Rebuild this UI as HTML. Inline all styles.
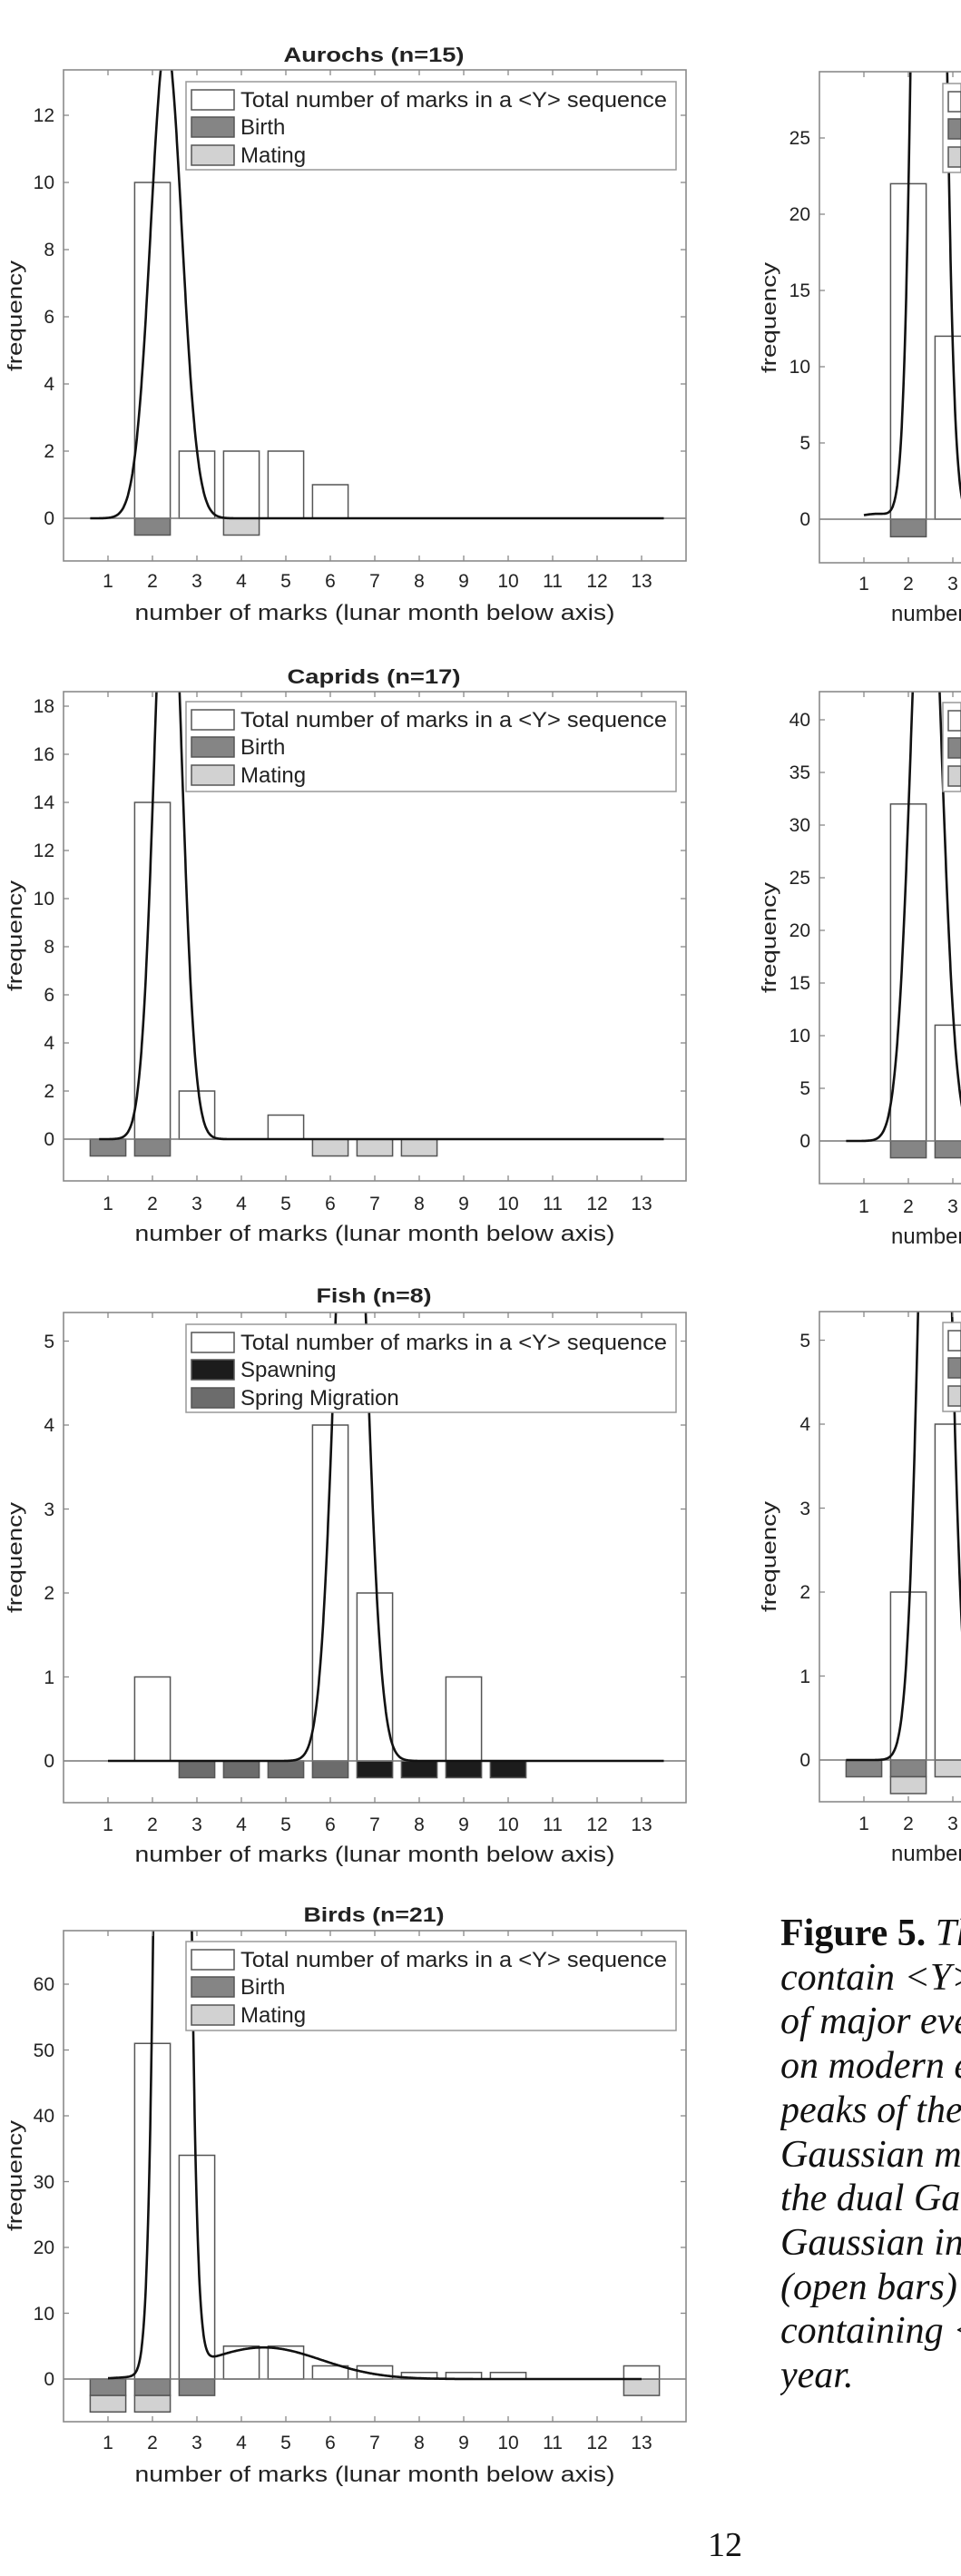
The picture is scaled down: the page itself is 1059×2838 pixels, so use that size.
<!DOCTYPE html>
<html><head><meta charset="utf-8">
<style>
html,body{margin:0;padding:0;background:#fff;width:1059px;height:2838px;overflow:hidden;position:relative}
svg{position:absolute;left:0;top:0}
.cap{position:absolute;left:860px;top:2106px;width:199px;overflow:hidden;font-family:"Liberation Serif",serif;font-size:42px;line-height:48.7px;font-style:italic;white-space:nowrap;color:#111}
.pg{position:absolute;left:780px;top:2782px;font-family:"Liberation Serif",serif;font-size:38px;color:#111}
text{font-family:"Liberation Sans",sans-serif;fill:#222}
</style></head><body>
<svg id="s" width="1059" height="2838" xmlns="http://www.w3.org/2000/svg">
<defs></defs>
<g id="plot"></g>
<g id="txt">
<!-- Aurochs -->
<text x="412" y="68" font-size="22" font-weight="bold" text-anchor="middle" textLength="199" lengthAdjust="spacingAndGlyphs">Aurochs (n=15)</text>
<text transform="translate(24,348) rotate(-90)" font-size="22" text-anchor="middle" textLength="122" lengthAdjust="spacingAndGlyphs">frequency</text>
<g font-size="21" text-anchor="end"><text x="60" y="578">0</text><text x="60" y="504">2</text><text x="60" y="430">4</text><text x="60" y="356">6</text><text x="60" y="282">8</text><text x="60" y="208">10</text><text x="60" y="134">12</text></g>
<g font-size="21" text-anchor="middle"><text x="119" y="647">1</text><text x="168" y="647">2</text><text x="217" y="647">3</text><text x="266" y="647">4</text><text x="315" y="647">5</text><text x="364" y="647">6</text><text x="413" y="647">7</text><text x="462" y="647">8</text><text x="511" y="647">9</text><text x="560" y="647">10</text><text x="609" y="647">11</text><text x="658" y="647">12</text><text x="707" y="647">13</text></g>
<text x="413" y="683" font-size="24" text-anchor="middle" textLength="529" lengthAdjust="spacingAndGlyphs">number of marks  (lunar month below axis)</text>
<g font-size="24"><text x="265" y="118" textLength="470" lengthAdjust="spacingAndGlyphs">Total number of marks in a &lt;Y&gt; sequence</text><text x="265" y="148">Birth</text><text x="265" y="179">Mating</text></g>

<!-- Caprids -->
<text x="412" y="753" font-size="22" font-weight="bold" text-anchor="middle" textLength="191" lengthAdjust="spacingAndGlyphs">Caprids (n=17)</text>
<text transform="translate(24,1031) rotate(-90)" font-size="22" text-anchor="middle" textLength="122" lengthAdjust="spacingAndGlyphs">frequency</text>
<g font-size="21" text-anchor="end"><text x="60" y="1262">0</text><text x="60" y="1209">2</text><text x="60" y="1156">4</text><text x="60" y="1103">6</text><text x="60" y="1050">8</text><text x="60" y="997">10</text><text x="60" y="944">12</text><text x="60" y="891">14</text><text x="60" y="838">16</text><text x="60" y="785">18</text></g>
<g font-size="21" text-anchor="middle"><text x="119" y="1333">1</text><text x="168" y="1333">2</text><text x="217" y="1333">3</text><text x="266" y="1333">4</text><text x="315" y="1333">5</text><text x="364" y="1333">6</text><text x="413" y="1333">7</text><text x="462" y="1333">8</text><text x="511" y="1333">9</text><text x="560" y="1333">10</text><text x="609" y="1333">11</text><text x="658" y="1333">12</text><text x="707" y="1333">13</text></g>
<text x="413" y="1367" font-size="24" text-anchor="middle" textLength="529" lengthAdjust="spacingAndGlyphs">number of marks  (lunar month below axis)</text>
<g font-size="24"><text x="265" y="801" textLength="470" lengthAdjust="spacingAndGlyphs">Total number of marks in a &lt;Y&gt; sequence</text><text x="265" y="831">Birth</text><text x="265" y="862">Mating</text></g>

<!-- Fish -->
<text x="412" y="1435" font-size="22" font-weight="bold" text-anchor="middle" textLength="127" lengthAdjust="spacingAndGlyphs">Fish (n=8)</text>
<text transform="translate(24,1716) rotate(-90)" font-size="22" text-anchor="middle" textLength="122" lengthAdjust="spacingAndGlyphs">frequency</text>
<g font-size="21" text-anchor="end"><text x="60" y="1947">0</text><text x="60" y="1855">1</text><text x="60" y="1762">2</text><text x="60" y="1670">3</text><text x="60" y="1577">4</text><text x="60" y="1485">5</text></g>
<g font-size="21" text-anchor="middle"><text x="119" y="2017">1</text><text x="168" y="2017">2</text><text x="217" y="2017">3</text><text x="266" y="2017">4</text><text x="315" y="2017">5</text><text x="364" y="2017">6</text><text x="413" y="2017">7</text><text x="462" y="2017">8</text><text x="511" y="2017">9</text><text x="560" y="2017">10</text><text x="609" y="2017">11</text><text x="658" y="2017">12</text><text x="707" y="2017">13</text></g>
<text x="413" y="2051" font-size="24" text-anchor="middle" textLength="529" lengthAdjust="spacingAndGlyphs">number of marks  (lunar month below axis)</text>
<g font-size="24"><text x="265" y="1487" textLength="470" lengthAdjust="spacingAndGlyphs">Total number of marks in a &lt;Y&gt; sequence</text><text x="265" y="1517">Spawning</text><text x="265" y="1548">Spring Migration</text></g>

<!-- Birds -->
<text x="412" y="2117" font-size="22" font-weight="bold" text-anchor="middle" textLength="155" lengthAdjust="spacingAndGlyphs">Birds (n=21)</text>
<text transform="translate(24,2397) rotate(-90)" font-size="22" text-anchor="middle" textLength="122" lengthAdjust="spacingAndGlyphs">frequency</text>
<g font-size="21" text-anchor="end"><text x="60" y="2628">0</text><text x="60" y="2556">10</text><text x="60" y="2483">20</text><text x="60" y="2411">30</text><text x="60" y="2338">40</text><text x="60" y="2266">50</text><text x="60" y="2193">60</text></g>
<g font-size="21" text-anchor="middle"><text x="119" y="2698">1</text><text x="168" y="2698">2</text><text x="217" y="2698">3</text><text x="266" y="2698">4</text><text x="315" y="2698">5</text><text x="364" y="2698">6</text><text x="413" y="2698">7</text><text x="462" y="2698">8</text><text x="511" y="2698">9</text><text x="560" y="2698">10</text><text x="609" y="2698">11</text><text x="658" y="2698">12</text><text x="707" y="2698">13</text></g>
<text x="413" y="2734" font-size="24" text-anchor="middle" textLength="529" lengthAdjust="spacingAndGlyphs">number of marks  (lunar month below axis)</text>
<g font-size="24"><text x="265" y="2167" textLength="470" lengthAdjust="spacingAndGlyphs">Total number of marks in a &lt;Y&gt; sequence</text><text x="265" y="2197">Birth</text><text x="265" y="2228">Mating</text></g>

<!-- Right column partial panels -->
<text transform="translate(855,350) rotate(-90)" font-size="22" text-anchor="middle" textLength="122" lengthAdjust="spacingAndGlyphs">frequency</text>
<g font-size="21" text-anchor="end"><text x="893" y="579">0</text><text x="893" y="495">5</text><text x="893" y="411">10</text><text x="893" y="327">15</text><text x="893" y="243">20</text><text x="893" y="159">25</text></g>
<g font-size="21" text-anchor="middle"><text x="952" y="650">1</text><text x="1001" y="650">2</text><text x="1050" y="650">3</text></g>
<text x="982" y="684" font-size="24">number of marks</text>

<text transform="translate(855,1033) rotate(-90)" font-size="22" text-anchor="middle" textLength="122" lengthAdjust="spacingAndGlyphs">frequency</text>
<g font-size="21" text-anchor="end"><text x="893" y="1264">0</text><text x="893" y="1206">5</text><text x="893" y="1148">10</text><text x="893" y="1090">15</text><text x="893" y="1032">20</text><text x="893" y="974">25</text><text x="893" y="916">30</text><text x="893" y="858">35</text><text x="893" y="800">40</text></g>
<g font-size="21" text-anchor="middle"><text x="952" y="1336">1</text><text x="1001" y="1336">2</text><text x="1050" y="1336">3</text></g>
<text x="982" y="1370" font-size="24">number of marks</text>

<text transform="translate(855,1715) rotate(-90)" font-size="22" text-anchor="middle" textLength="122" lengthAdjust="spacingAndGlyphs">frequency</text>
<g font-size="21" text-anchor="end"><text x="893" y="1946">0</text><text x="893" y="1854">1</text><text x="893" y="1761">2</text><text x="893" y="1669">3</text><text x="893" y="1576">4</text><text x="893" y="1484">5</text></g>
<g font-size="21" text-anchor="middle"><text x="952" y="2016">1</text><text x="1001" y="2016">2</text><text x="1050" y="2016">3</text></g>
<text x="982" y="2050" font-size="24">number of marks</text>
</g>
</svg>

<div class="cap"><b style="font-style:normal">Figure 5.</b> The<br>contain &lt;Y&gt; sequences<br>of major events<br>on modern ecological<br>peaks of the<br>Gaussian model<br>the dual Gaussian<br>Gaussian in<br>(open bars) for<br>containing &lt;Y&gt; in a<br>year.</div>
<div class="pg">12</div>

<script>
(function(){
var NS="http://www.w3.org/2000/svg";
var plot=document.getElementById("plot"), defs=document.querySelector("defs");
function el(t,a,p){var e=document.createElementNS(NS,t);for(var k in a)e.setAttribute(k,a[k]);(p||plot).appendChild(e);return e;}
var B="#858585",M="#d2d2d2",SP="#1c1c1c",MG="#6c6c6c";
var P=[
{x0:70,right:756,top:77,bot:618,y0:571,ppu:37,yt:[0,2,4,6,8,10,12],bars:{2:10,3:2,4:2,5:2,6:1},below:[[2,0,-0.5,B],[4,0,-0.5,M]],g:[[14.2,2.31,0.35]],cr:[0.6,13.5],leg:[90,187],sw:[ "#fff",B,M],lx:205,lr:745},
{x0:70,right:756,top:762,bot:1301,y0:1255,ppu:26.5,yt:[0,2,4,6,8,10,12,14,16,18],bars:{2:14,3:2,5:1},below:[[1,0,-0.7,B],[2,0,-0.7,B],[6,0,-0.7,M],[7,0,-0.7,M],[8,0,-0.7,M]],g:[[27,2.35,0.3]],cr:[0.8,13.5],leg:[773,872],sw:["#fff",B,M],lx:205,lr:745},
{x0:70,right:756,top:1446,bot:1986,y0:1940,ppu:92.5,yt:[0,1,2,3,4,5],bars:{2:1,6:4,7:2,9:1},below:[[3,0,-0.2,MG],[4,0,-0.2,MG],[5,0,-0.2,MG],[6,0,-0.2,MG],[7,0,-0.2,SP],[8,0,-0.2,SP],[9,0,-0.2,SP],[10,0,-0.2,SP]],g:[[8.7,6.46,0.34]],cr:[1,13.5],leg:[1459,1556],sw:["#fff",SP,MG],lx:205,lr:745},
{x0:70,right:756,top:2127,bot:2668,y0:2621,ppu:7.25,yt:[0,10,20,30,40,50,60],bars:{2:51,3:34,4:5,5:5,6:2,7:2,8:1,9:1,10:1,13:2},below:[[1,0,-2.5,B],[2,0,-2.5,B],[3,0,-2.5,B],[1,-2.5,-5,M],[2,-2.5,-5,M],[13,0,-2.5,M]],g:[[400,2.45,0.23],[4.8,4.5,1.3]],cr:[1,13],leg:[2139,2237],sw:["#fff",B,M],lx:205,lr:745},
{x0:903,right:1060,top:79,bot:620,y0:572,ppu:16.8,yt:[0,5,10,15,20,25],bars:{2:22,3:12},below:[[2,0,-1.15,B]],g:[[116,2.46,0.25],[0.35,1.3,0.4]],cr:[1,13.5],leg:[92,190],sw:["#fff",B,M],lx:1039,lr:1100},
{x0:903,right:1060,top:762,bot:1304,y0:1257,ppu:11.6,yt:[0,5,10,15,20,25,30,35,40],bars:{2:32,3:11},below:[[2,0,-1.6,B],[3,0,-1.6,B]],g:[[65,2.4,0.33]],cr:[0.6,13.5],leg:[774,872],sw:["#fff",B,M],lx:1039,lr:1100},
{x0:903,right:1060,top:1445,bot:1985,y0:1939,ppu:92.5,yt:[0,1,2,3,4,5],bars:{2:2,3:4},below:[[1,0,-0.2,B],[2,0,-0.2,B],[2,-0.2,-0.4,M],[3,0,-0.2,M]],g:[[12,2.6,0.3]],cr:[0.6,13.5],leg:[1457,1555],sw:["#fff",B,M],lx:1039,lr:1100}
];
P.forEach(function(p,i){
  var X=function(v){return p.x0+v*49;}, Y=function(v){return p.y0-v*p.ppu;};
  var cp=el("clipPath",{id:"c"+i},defs);
  el("rect",{x:p.x0,y:p.top,width:p.right-p.x0,height:p.bot-p.top},cp);
  var g=el("g",{"clip-path":"url(#c"+i+")"});
  p.below.forEach(function(b){var y1=Y(b[1]),y2=Y(b[2]);el("rect",{x:X(b[0])-19.6,y:y1,width:39.2,height:y2-y1,fill:b[3],stroke:"#555","stroke-width":1.5},g);});
  for(var k in p.bars){var v=p.bars[k];el("rect",{x:X(+k)-19.6,y:Y(v),width:39.2,height:v*p.ppu,fill:"#fff",stroke:"#555","stroke-width":1.5},g);}
  el("line",{x1:p.x0,x2:p.right,y1:p.y0,y2:p.y0,stroke:"#777","stroke-width":1.5},g);
  var d="";for(var x=p.cr[0];x<=p.cr[1]+1e-9;x+=0.01){var y=0;p.g.forEach(function(q){y+=q[0]*Math.exp(-(x-q[1])*(x-q[1])/(2*q[2]*q[2]));});d+=(d?"L":"M")+X(x).toFixed(1)+","+Math.max(Y(y),p.top-50).toFixed(1);}
  el("path",{d:d,fill:"none",stroke:"#111","stroke-width":2.6},g);
  el("rect",{x:p.x0,y:p.top,width:p.right-p.x0,height:p.bot-p.top,fill:"none",stroke:"#8a8a8a","stroke-width":1.6});
  for(var t=1;t<=13;t++){if(X(t)>1059)break;el("line",{x1:X(t),x2:X(t),y1:p.bot,y2:p.bot-6,stroke:"#888","stroke-width":1.3});el("line",{x1:X(t),x2:X(t),y1:p.top,y2:p.top+6,stroke:"#888","stroke-width":1.3});}
  p.yt.forEach(function(v){el("line",{x1:p.x0,x2:p.x0+6,y1:Y(v),y2:Y(v),stroke:"#888","stroke-width":1.3});if(p.right<1059)el("line",{x1:p.right,x2:p.right-6,y1:Y(v),y2:Y(v),stroke:"#888","stroke-width":1.3});});
  el("rect",{x:p.lx,y:p.leg[0],width:Math.min(p.lr,1059)-p.lx,height:p.leg[1]-p.leg[0],fill:"#fff",stroke:"#999","stroke-width":1.5});
  var rows=[20,50,81];
  rows.forEach(function(r,j){el("rect",{x:p.lx+6,y:p.leg[0]+r-11,width:Math.min(47,1059-p.lx-6),height:22,fill:p.sw[j],stroke:"#555","stroke-width":1.5});});
});
})();
</script>
</body></html>
